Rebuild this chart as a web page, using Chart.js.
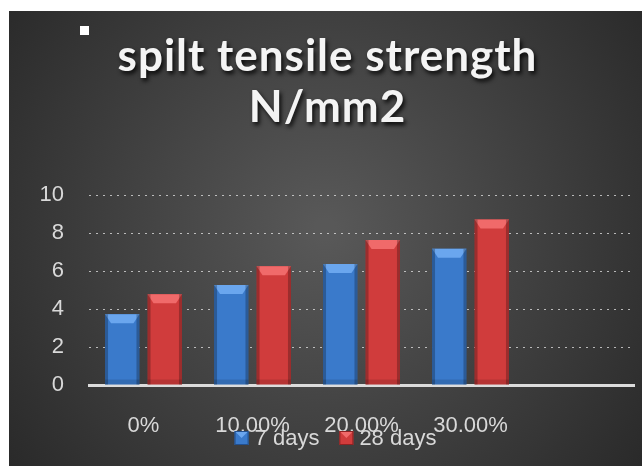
<!DOCTYPE html>
<html>
<head>
<meta charset="utf-8">
<script src="https://cdn.jsdelivr.net/npm/chart.js@4/dist/chart.umd.min.js"></script>
<style>
  html, body { margin: 0; padding: 0; background: #ffffff; }
  #wrap { position: absolute; left: 9px; top: 11px; width: 633px; height: 455px; }
</style>
</head>
<body>
<div id="wrap"><canvas id="c" width="633" height="455"></canvas></div>
<script>
// ---- data ----
const categories = ['0%', '10.00%', '20.00%', '30.00%', ''];
const seriesNames = ['7 days', '28 days'];
const days7 = [3.72, 5.26, 6.37, 7.17, null];
const days28 = [4.78, 6.25, 7.63, 8.71, null];
const yTicks = [0, 2, 4, 6, 8, 10];
const titleLines = ['spilt tensile strength', 'N/mm2'];

const FONT = "'Liberation Sans', Arial, sans-serif";
const TITLE_FONT = "Lato, 'Open Sans', sans-serif";
const TXT = '#d9d9d9';

const palette = [
  { base: '#3a7acb', light: '#6aa6ee', dark: '#22508f' },
  { base: '#d03c3c', light: '#f06a6a', dark: '#8f2222' }
];

const bgPlugin = {
  id: 'bg',
  beforeDraw(chart) {
    const { ctx, width, height } = chart;
    ctx.save();
    const g = ctx.createRadialGradient(width * 0.5, height * 0.48, 10, width * 0.5, height * 0.48, width * 0.62);
    g.addColorStop(0, '#585858');
    g.addColorStop(1, '#2a2a2a');
    ctx.fillStyle = g;
    ctx.fillRect(0, 0, width, height);
    const t = chart.titleBlock;
    if (t && !t._wrapped) {
      const orig = t.draw.bind(t);
      t.draw = function () {
        chart.ctx.save();
        chart.ctx.translate(6, 0);
        chart.ctx.letterSpacing = '1px';
        chart.ctx.shadowColor = 'rgba(0,0,0,0.85)';
        chart.ctx.shadowOffsetX = 2;
        chart.ctx.shadowOffsetY = 3;
        chart.ctx.shadowBlur = 4;
        orig();
        chart.ctx.restore();
      };
      t._wrapped = true;
    }
    ctx.restore();
  },
  afterDatasetsDraw(chart) {
    const { ctx } = chart;
    chart.data.datasets.forEach((ds, di) => {
      const meta = chart.getDatasetMeta(di);
      const pal = palette[di];
      meta.data.forEach((bar, i) => {
        if (ds.data[i] == null) return;
        const { x, y, base, width } = bar.getProps(['x', 'y', 'base', 'width'], true);
        const l = x - width / 2, r = x + width / 2;
        const b = 6;
        ctx.save();
        ctx.fillStyle = pal.light;
        ctx.beginPath();
        ctx.moveTo(l, y); ctx.lineTo(r, y); ctx.lineTo(r - b, y + b + 3); ctx.lineTo(l + b, y + b + 3); ctx.closePath();
        ctx.fill();
        ctx.fillStyle = 'rgba(0,0,0,0.25)';
        ctx.fillRect(l, y, 3, base - y);
        ctx.fillRect(r - 3, y, 3, base - y);
        ctx.fillStyle = 'rgba(0,0,0,0.12)';
        ctx.fillRect(l, base - 5, width, 5);
        ctx.restore();
      });
    });
  },
  afterDraw(chart) {
    const { ctx, width } = chart;
    ctx.save();
    ctx.fillStyle = '#ffffff';
    ctx.fillRect(71, 15, 9, 9);
    ctx.font = '22px ' + FONT;
    ctx.textBaseline = 'middle';
    const box = 14, gap = 6, spacing = 20;
    const items = chart.data.datasets.map((d, i) => ({ label: d.label, pal: palette[i], w: ctx.measureText(d.label).width }));
    let total = items.reduce((s, it) => s + box + gap + it.w, 0) + spacing * (items.length - 1);
    let x = width / 2 + 10 - total / 2;
    const cy = 427;
    items.forEach(it => {
      ctx.fillStyle = it.pal.base;
      ctx.fillRect(x, cy - box / 2, box, box);
      ctx.fillStyle = it.pal.light;
      ctx.beginPath();
      ctx.moveTo(x, cy - box / 2); ctx.lineTo(x + box, cy - box / 2); ctx.lineTo(x + box / 2, cy); ctx.closePath(); ctx.fill();
      ctx.strokeStyle = it.pal.dark; ctx.lineWidth = 1;
      ctx.strokeRect(x + 0.5, cy - box / 2 + 0.5, box - 1, box - 1);
      x += box + gap;
      ctx.fillStyle = TXT;
      ctx.fillText(it.label, x, cy + 1);
      x += it.w + spacing;
    });
    ctx.restore();
  }
};

function mkDataset(label, data, pal) {
  return {
    label, data,
    backgroundColor: (c) => {
      const el = c.element;
      if (!el || el.width == null || isNaN(el.x)) return pal.base;
      const g = c.chart.ctx.createLinearGradient(el.x - el.width / 2, 0, el.x + el.width / 2, 0);
      g.addColorStop(0, pal.dark);
      g.addColorStop(0.15, pal.base);
      g.addColorStop(0.85, pal.base);
      g.addColorStop(1, pal.dark);
      return g;
    },
    borderWidth: 0,
    categoryPercentage: 0.78,
    barPercentage: 0.81
  };
}

new Chart(document.getElementById('c'), {
  type: 'bar',
  data: {
    labels: categories,
    datasets: [
      mkDataset(seriesNames[0], days7, palette[0]),
      mkDataset(seriesNames[1], days28, palette[1])
    ]
  },
  plugins: [bgPlugin],
  options: {
    responsive: false,
    animation: false,
    devicePixelRatio: 1,
    layout: { padding: { left: 0, right: 8, top: 0, bottom: 0 } },
    plugins: {
      legend: { display: false },
      tooltip: { enabled: false },
      title: {
        display: true,
        text: titleLines,
        color: '#f4f4f4',
        font: { family: TITLE_FONT, size: 44, weight: 'bold', lineHeight: 1.16 },
        padding: { top: 20, bottom: 62 }
      }
    },
    scales: {
      x: {
        grid: { display: false, drawTicks: false },
        border: { display: true, color: '#dcdcdc', width: 3 },
        ticks: { color: TXT, font: { family: FONT, size: 22 }, padding: 28, maxRotation: 0, autoSkip: false },
        afterFit(s) { s.height = 81; }
      },
      y: {
        min: 0, max: 10,
        afterBuildTicks(s) { s.ticks = yTicks.map(v => ({ value: v })); },
        grid: {
          color: (c) => c.tick && c.tick.value === 0 ? 'rgba(0,0,0,0)' : 'rgba(230,230,230,0.75)',
          lineWidth: 1,
          drawTicks: false
        },
        border: { display: false, dash: [2, 5] },
        ticks: { color: TXT, font: { family: FONT, size: 22 }, padding: 25 },
        afterFit(s) { s.width = 80; }
      }
    }
  }
});
</script>
</body>
</html>
